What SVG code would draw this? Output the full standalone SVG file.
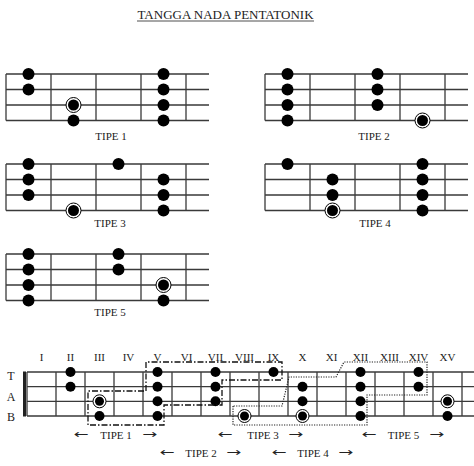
<svg xmlns="http://www.w3.org/2000/svg" width="474" height="466" viewBox="0 0 474 466">
<style>
.t{font-family:"Liberation Serif","Times New Roman",serif;fill:#222;text-anchor:middle}
.ln{stroke:#3a3a3a;stroke-width:1.3;fill:none}
.d{fill:#000}
.ring{fill:#fff;stroke:#000;stroke-width:1}
.ar{font-family:"DejaVu Sans",sans-serif;font-size:12px;fill:#222}
.dd{fill:none;stroke:#111;stroke-width:1.3;stroke-dasharray:6 2 1.5 2}
.dot{fill:none;stroke:#222;stroke-width:1.2;stroke-dasharray:1.2 1.3}
</style>
<rect width="474" height="466" fill="#fff"/>
<g id="title">
<text class="t" x="225.5" y="18.5" font-size="13">TANGGA NADA PENTATONIK</text>
<line x1="137" y1="21" x2="314" y2="21" stroke="#222" stroke-width="0.8"/>
</g>

<g id="tipe1">
<path class="ln" d="M6,74H209M6,89.5H209M6,105H209M6,120.5H209M6,74V120.5M51,74V120.5M96,74V120.5M141,74V120.5M186,74V120.5"/>
<circle class="d" cx="28.5" cy="74" r="6"/><circle class="d" cx="28.5" cy="89.5" r="6"/>
<circle class="ring" cx="73.5" cy="105" r="7.5"/><circle class="d" cx="73.5" cy="105" r="5.5"/>
<circle class="d" cx="73.5" cy="120.5" r="6"/>
<circle class="d" cx="163.5" cy="74" r="6"/><circle class="d" cx="163.5" cy="89.5" r="6"/><circle class="d" cx="163.5" cy="105" r="6"/><circle class="d" cx="163.5" cy="120.5" r="6"/>
<text class="t" x="111" y="139.5" font-size="11">TIPE 1</text>
</g>

<g id="tipe2">
<path class="ln" d="M265,74H468M265,89.5H468M265,105H468M265,120.5H468M265,74V120.5M310,74V120.5M355,74V120.5M400,74V120.5M445,74V120.5"/>
<circle class="d" cx="287.5" cy="74" r="6"/><circle class="d" cx="287.5" cy="89.5" r="6"/><circle class="d" cx="287.5" cy="105" r="6"/><circle class="d" cx="287.5" cy="120.5" r="6"/>
<circle class="d" cx="377.5" cy="74" r="6"/><circle class="d" cx="377.5" cy="89.5" r="6"/><circle class="d" cx="377.5" cy="105" r="6"/>
<circle class="ring" cx="422.5" cy="120.5" r="7.5"/><circle class="d" cx="422.5" cy="120.5" r="5.5"/>
<text class="t" x="374" y="139.5" font-size="11">TIPE 2</text>
</g>

<g id="tipe3">
<path class="ln" d="M6,164H209M6,179.5H209M6,195H209M6,210.5H209M6,164V210.5M51,164V210.5M96,164V210.5M141,164V210.5M186,164V210.5"/>
<circle class="d" cx="28.5" cy="164" r="6"/><circle class="d" cx="28.5" cy="179.5" r="6"/><circle class="d" cx="28.5" cy="195" r="6"/>
<circle class="ring" cx="73.5" cy="210.5" r="7.5"/><circle class="d" cx="73.5" cy="210.5" r="5.5"/>
<circle class="d" cx="118.5" cy="164" r="6"/>
<circle class="d" cx="163.5" cy="179.5" r="6"/><circle class="d" cx="163.5" cy="195" r="6"/><circle class="d" cx="163.5" cy="210.5" r="6"/>
<text class="t" x="110" y="227" font-size="11">TIPE 3</text>
</g>

<g id="tipe4">
<path class="ln" d="M265,164H468M265,179.5H468M265,195H468M265,210.5H468M265,164V210.5M310,164V210.5M355,164V210.5M400,164V210.5M445,164V210.5"/>
<circle class="d" cx="287.5" cy="164" r="6"/>
<circle class="d" cx="332.5" cy="179.5" r="6"/><circle class="d" cx="332.5" cy="195" r="6"/>
<circle class="ring" cx="332.5" cy="210.5" r="7.5"/><circle class="d" cx="332.5" cy="210.5" r="5.5"/>
<circle class="d" cx="422.5" cy="164" r="6"/><circle class="d" cx="422.5" cy="179.5" r="6"/><circle class="d" cx="422.5" cy="195" r="6"/><circle class="d" cx="422.5" cy="210.5" r="6"/>
<text class="t" x="375" y="227" font-size="11">TIPE 4</text>
</g>

<g id="tipe5">
<path class="ln" d="M6,254H209M6,269.5H209M6,285H209M6,300.5H209M6,254V300.5M51,254V300.5M96,254V300.5M141,254V300.5M186,254V300.5"/>
<circle class="d" cx="28.5" cy="254" r="6"/><circle class="d" cx="28.5" cy="269.5" r="6"/><circle class="d" cx="28.5" cy="285" r="6"/><circle class="d" cx="28.5" cy="300.5" r="6"/>
<circle class="d" cx="118.5" cy="254" r="6"/><circle class="d" cx="118.5" cy="269.5" r="6"/>
<circle class="ring" cx="163.5" cy="285" r="7.5"/><circle class="d" cx="163.5" cy="285" r="5.5"/>
<circle class="d" cx="163.5" cy="300.5" r="6"/>
<text class="t" x="110" y="316" font-size="11">TIPE 5</text>
</g>

<g id="tab">
<path class="ln" d="M27,372H474M27,386.7H474M27,401.3H474M27,416H474M27,372V416M56,372V416M85,372V416M114,372V416M143,372V416M172,372V416M201,372V416M230,372V416M259,372V416M288,372V416M317,372V416M346,372V416M375,372V416M404,372V416M433,372V416M462,372V416"/>
<rect x="23" y="371.5" width="3" height="45" fill="#222"/>
<g class="t" font-size="11">
<text x="41.5" y="361">I</text><text x="70.5" y="361">II</text><text x="99.5" y="361">III</text><text x="128.5" y="361">IV</text><text x="157.5" y="361">V</text><text x="186.5" y="361">VI</text><text x="215.5" y="361">VII</text><text x="244.5" y="361">VIII</text><text x="273.5" y="361">IX</text><text x="302.5" y="361">X</text><text x="331.5" y="361">XI</text><text x="360.5" y="361">XII</text><text x="389.5" y="361">XIII</text><text x="418.5" y="361">XIV</text><text x="447.5" y="361">XV</text>
</g>
<g class="t" font-size="12">
<text x="11" y="379.5">T</text><text x="11" y="400.5">A</text><text x="11" y="420.5">B</text>
</g>
<circle class="d" cx="70.5" cy="372" r="5"/><circle class="d" cx="70.5" cy="386.7" r="5"/>
<circle class="ring" cx="99.5" cy="401.3" r="6.5"/><circle class="d" cx="99.5" cy="401.3" r="4.5"/><circle class="d" cx="99.5" cy="416" r="5"/>
<circle class="d" cx="157.5" cy="372" r="5"/><circle class="d" cx="157.5" cy="386.7" r="5"/><circle class="d" cx="157.5" cy="401.3" r="5"/><circle class="d" cx="157.5" cy="416" r="5"/>
<circle class="d" cx="215.5" cy="372" r="5"/><circle class="d" cx="215.5" cy="386.7" r="5"/><circle class="d" cx="215.5" cy="401.3" r="5"/>
<circle class="ring" cx="244.5" cy="416" r="6.5"/><circle class="d" cx="244.5" cy="416" r="4.5"/>
<circle class="d" cx="273.5" cy="372" r="5"/>
<circle class="d" cx="302.5" cy="386.7" r="5"/><circle class="d" cx="302.5" cy="401.3" r="5"/>
<circle class="ring" cx="302.5" cy="416" r="6.5"/><circle class="d" cx="302.5" cy="416" r="4.5"/>
<circle class="d" cx="360.5" cy="372" r="5"/><circle class="d" cx="360.5" cy="386.7" r="5"/><circle class="d" cx="360.5" cy="401.3" r="5"/><circle class="d" cx="360.5" cy="416" r="5"/>
<circle class="d" cx="418.5" cy="372" r="5"/><circle class="d" cx="418.5" cy="386.7" r="5"/>
<circle class="ring" cx="447.5" cy="401.3" r="6.5"/><circle class="d" cx="447.5" cy="401.3" r="4.5"/><circle class="d" cx="447.5" cy="416" r="5"/>
</g>

<g id="boxes">
<path class="dd" d="M146,391V362H282V380H222V405H164V425H88V391H146"/>
<path class="dot" d="M233,406V425H367V395H427V362H344L336,377H289L282,406Z"/>
</g>

<g id="range-labels">
<text class="ar" x="74" y="437.5" textLength="15" lengthAdjust="spacingAndGlyphs">←</text>
<text class="t" x="116" y="439" font-size="11">TIPE 1</text>
<text class="ar" x="142" y="437.5" textLength="15" lengthAdjust="spacingAndGlyphs">→</text>
<text class="ar" x="160" y="455.5" textLength="15" lengthAdjust="spacingAndGlyphs">←</text>
<text class="t" x="201" y="457" font-size="11">TIPE 2</text>
<text class="ar" x="226" y="455.5" textLength="15" lengthAdjust="spacingAndGlyphs">→</text>
<text class="ar" x="218" y="437.5" textLength="15" lengthAdjust="spacingAndGlyphs">←</text>
<text class="t" x="263" y="439" font-size="11">TIPE 3</text>
<text class="ar" x="288" y="437.5" textLength="15" lengthAdjust="spacingAndGlyphs">→</text>
<text class="ar" x="272" y="455.5" textLength="15" lengthAdjust="spacingAndGlyphs">←</text>
<text class="t" x="313" y="457" font-size="11">TIPE 4</text>
<text class="ar" x="338" y="455.5" textLength="15" lengthAdjust="spacingAndGlyphs">→</text>
<text class="ar" x="362" y="437.5" textLength="15" lengthAdjust="spacingAndGlyphs">←</text>
<text class="t" x="403.5" y="439" font-size="11">TIPE 5</text>
<text class="ar" x="429" y="437.5" textLength="15" lengthAdjust="spacingAndGlyphs">→</text>
</g>
</svg>
